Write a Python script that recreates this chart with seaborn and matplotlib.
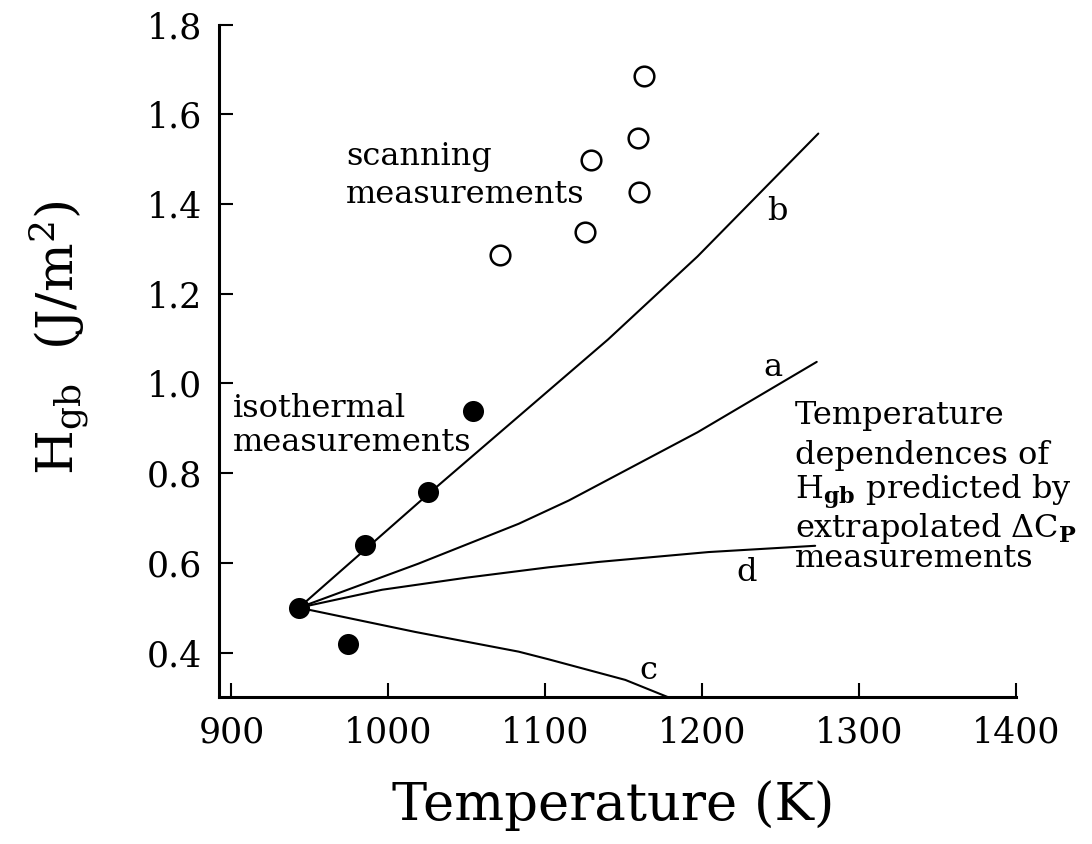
import matplotlib
matplotlib.use("Agg")
import matplotlib.pyplot as plt
import seaborn as sns
import pandas as pd

# ---------------- data ----------------
T_iso = [943, 974, 985, 1025, 1054]
H_iso = [0.50, 0.42, 0.64, 0.758, 0.938]

T_scan = [1071, 1125, 1129, 1159, 1160, 1163]
H_scan = [1.287, 1.337, 1.498, 1.546, 1.426, 1.686]

T_b = [943, 1025, 1140, 1197, 1274]
H_b = [0.50, 0.752, 1.098, 1.283, 1.557]

T_a = [943, 1019, 1083, 1115, 1197, 1273]
H_a = [0.50, 0.598, 0.687, 0.739, 0.891, 1.048]

T_d = [943, 996, 1050, 1102, 1134, 1204, 1272]
H_d = [0.50, 0.54, 0.567, 0.59, 0.602, 0.624, 0.638]

T_c = [943, 1017, 1083, 1102, 1151, 1180]
H_c = [0.50, 0.446, 0.402, 0.385, 0.339, 0.298]

x_ticks = [900, 1000, 1100, 1200, 1300, 1400]
y_ticks = [0.4, 0.6, 0.8, 1.0, 1.2, 1.4, 1.6, 1.8]
y_tick_labels = ["0.4", "0.6", "0.8", "1.0", "1.2", "1.4", "1.6", "1.8"]

curves = {"b": (T_b, H_b), "a": (T_a, H_a), "d": (T_d, H_d), "c": (T_c, H_c)}

# ---------------- style ----------------
sns.set_theme(style="ticks")
plt.rcParams["font.family"] = ["DejaVu Serif", "DejaVu Sans"]
plt.rcParams["mathtext.fontset"] = "dejavuserif"
plt.rcParams["text.color"] = "black"
plt.rcParams["axes.labelcolor"] = "black"
plt.rcParams["xtick.color"] = "black"
plt.rcParams["ytick.color"] = "black"

fig = plt.figure(figsize=(10.92, 8.44), dpi=100)
ax = fig.add_axes([0.2005, 0.1737, 0.7299, 0.7972])

for name, (tx, hy) in curves.items():
    df = pd.DataFrame({"T": tx, "H": hy})
    sns.lineplot(data=df, x="T", y="H", color="black", linewidth=1.5,
                 sort=False, estimator=None, ax=ax, zorder=2)

df_iso = pd.DataFrame({"T": T_iso, "H": H_iso})
sns.scatterplot(data=df_iso, x="T", y="H", color="black", s=230,
                edgecolor="black", linewidth=0, ax=ax, zorder=3)

df_scan = pd.DataFrame({"T": T_scan, "H": H_scan})
sns.scatterplot(data=df_scan, x="T", y="H", color="white", s=200,
                edgecolor="black", linewidth=1.8, ax=ax, zorder=3)

ax.set_xlim(892, 1400)
ax.set_ylim(0.3, 1.8)
ax.set_xticks(x_ticks)
ax.set_xticklabels([str(v) for v in x_ticks])
ax.set_yticks(y_ticks)
ax.set_yticklabels(y_tick_labels)

for s in ["top", "right"]:
    ax.spines[s].set_visible(False)
for s in ["left", "bottom"]:
    ax.spines[s].set_linewidth(2.2)
    ax.spines[s].set_color("black")

ax.tick_params(axis="both", direction="in", length=10, width=1.5,
               labelsize=25, colors="black", labelcolor="black")
ax.tick_params(axis="y", pad=12)
ax.tick_params(axis="x", pad=13)

ax.set_xlabel("Temperature (K)", fontsize=38, va="center", color="black")
ax.xaxis.set_label_coords(0.494, -0.16)
ax.set_ylabel(r"H$_{\mathrm{gb}}$  (J/m$^{2}$)", fontsize=37, va="center",
              color="black")
ax.yaxis.set_label_coords(-0.2, 0.534)

fs = 23
tc = "black"
ax.text(973, 1.488, "scanning", fontsize=fs, va="baseline", color=tc)
ax.text(973, 1.403, "measurements", fontsize=fs, va="baseline", color=tc)
ax.text(901, 0.924, "isothermal", fontsize=fs, va="baseline", color=tc)
ax.text(901, 0.850, "measurements", fontsize=fs, va="baseline", color=tc)

right_lines = ["Temperature", "dependences of",
               r"H$_{\mathbf{gb}}$ predicted by",
               r"extrapolated ΔC$_{\mathbf{P}}$", "measurements"]
right_y = [0.909, 0.821, 0.743, 0.657, 0.591]
for txt, yy in zip(right_lines, right_y):
    ax.text(1259, yy, txt, fontsize=fs, va="baseline", clip_on=False, color=tc)

ax.text(1248, 1.383, "b", fontsize=fs, ha="center", va="center", color=tc)
ax.text(1245, 1.035, "a", fontsize=fs, ha="center", va="center", color=tc)
ax.text(1228, 0.579, "d", fontsize=fs, ha="center", va="center", color=tc)
ax.text(1165.5, 0.361, "c", fontsize=fs, ha="center", va="center", color=tc)

fig.savefig("out.png", dpi=100)
